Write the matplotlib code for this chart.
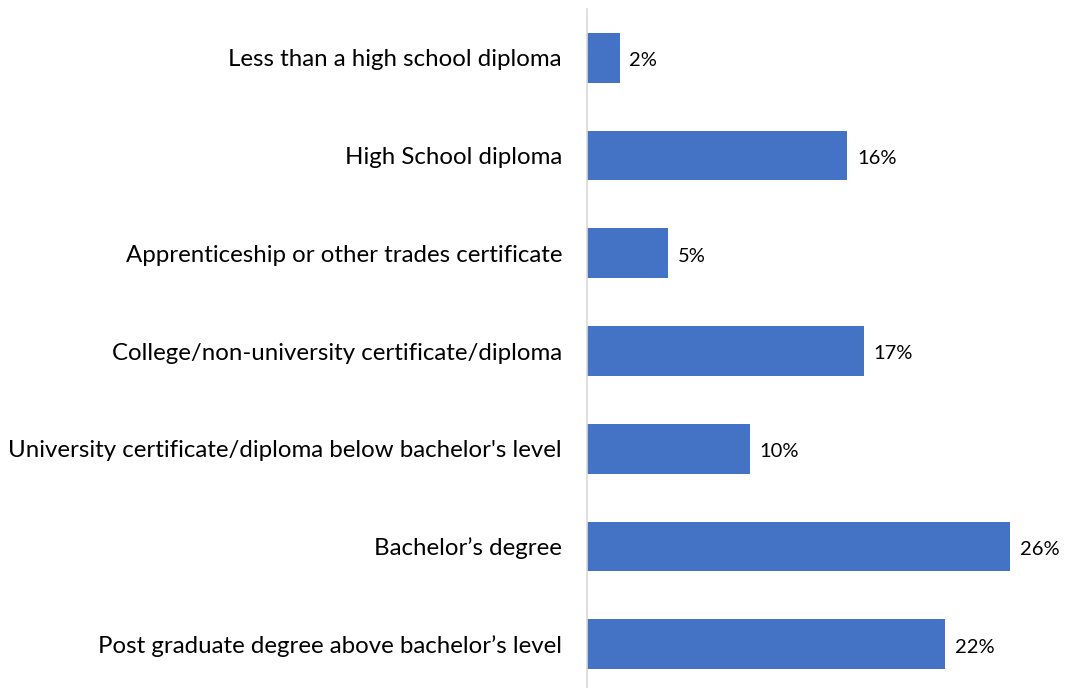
import matplotlib.pyplot as plt

categories = ["Less than a high school diploma",
              "High School diploma",
              "Apprenticeship or other trades certificate",
              "College/non-university certificate/diploma",
              "University certificate/diploma below bachelor's level",
              "Bachelor\u2019s degree",
              "Post graduate degree above bachelor\u2019s level"]
values = [2, 16, 5, 17, 10, 26, 22]

plt.rcParams['font.family'] = ['Lato', 'DejaVu Sans']

fig = plt.figure(figsize=(10.66, 6.88), dpi=100)
ax = fig.add_axes([587 / 1066, -5 / 688, 1 - 587 / 1066 - 0.02, 684 / 688])

pos = list(range(len(categories)))
ax.barh(pos, values, height=0.51, color='#4472C4')
for p, v in zip(pos, values):
    ax.text(v + 0.6, p + 0.03, f"{v}%", va='center', ha='left', fontsize=14.5, color='#000000')

ax.set_ylim(len(categories) - 0.5, -0.5)
ax.set_xlim(0, (1066 * (1 - 0.02) - 587) / 16.27)
ax.set_yticks(pos)
ax.set_yticklabels(categories, fontsize=17.3)
ax.tick_params(axis='y', length=0, pad=18)
ax.set_xticks([])

for s in ['top', 'right', 'bottom']:
    ax.spines[s].set_visible(False)
ax.spines['left'].set_color('#D9D9D9')
ax.spines['left'].set_linewidth(1.2)

fig.savefig('out.png', dpi=100)
